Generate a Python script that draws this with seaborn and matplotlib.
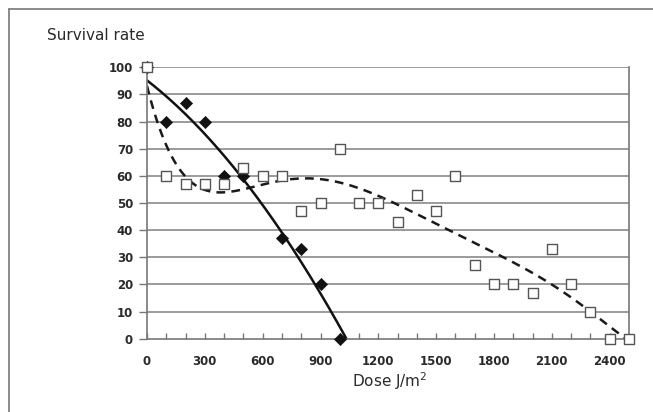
import numpy as np
import pandas as pd
import matplotlib
matplotlib.use("Agg")
import matplotlib.pyplot as plt
import seaborn as sns
from matplotlib.ticker import MultipleLocator

# --- data ---
# filled diamonds (the point at dose 0 lies hidden under the square at 0/100)
dose_a = [0, 100, 200, 300, 400, 500, 700, 800, 900, 1000]
surv_a = [100, 80, 87, 80, 60, 60, 37, 33, 20, 0]

# open squares
dose_b = [0, 100, 200, 300, 400, 500, 600, 700, 800, 900, 1000, 1100, 1200,
          1300, 1400, 1500, 1600, 1700, 1800, 1900, 2000, 2100, 2200, 2300,
          2400, 2500]
surv_b = [100, 60, 57, 57, 57, 63, 60, 60, 47, 50, 70, 50, 50,
          43, 53, 47, 60, 27, 20, 20, 17, 33, 20, 10,
          0, 0]

y_ticks = [0, 10, 20, 30, 40, 50, 60, 70, 80, 90, 100]
x_ticks = [0, 300, 600, 900, 1200, 1500, 1800, 2100, 2400]

sns.set_theme(style="white")
plt.rcParams['font.family'] = ['DejaVu Sans']

fig = plt.figure(figsize=(6.53, 4.12), dpi=100)
ax = fig.add_axes([0.2251, 0.1779, 0.9632 - 0.2251, 0.8367 - 0.1779])

# polynomial trend lines (as the spreadsheet trendlines of the original)
ca = np.polyfit(dose_a, surv_a, 2)
roots = [r.real for r in np.roots(ca) if abs(r.imag) < 1e-9 and r.real > 0]
xa_end = min(roots) if roots else 1000
xa = np.linspace(0, xa_end, 200)
df_a_fit = pd.DataFrame({"x": xa, "y": np.polyval(ca, xa)})

cb = np.polyfit(dose_b, surv_b, 6)
xb = np.linspace(0, 2500, 400)
yb = np.polyval(cb, xb)
keep = yb >= 0
df_b_fit = pd.DataFrame({"x": xb[keep], "y": yb[keep]})

for v in y_ticks[1:]:
    ax.axhline(v, color="#8a8a8a", lw=1.2, zorder=0)

sns.lineplot(data=df_b_fit, x="x", y="y", ax=ax, color="#1a1a1a", lw=1.8,
             zorder=2)
ax.lines[-1].set_dashes([3.5, 2.5])
sns.lineplot(data=df_a_fit, x="x", y="y", ax=ax, color="#111111", lw=1.8, zorder=2)

sns.scatterplot(x=dose_a, y=surv_a, ax=ax, marker="D", s=38,
                color="#111111", edgecolor="#111111", zorder=3, clip_on=False)
sns.scatterplot(x=dose_b, y=surv_b, ax=ax, marker="s", s=55,
                facecolor="white", edgecolor="#555555", linewidth=1.0, zorder=4,
                clip_on=False)

ax.set_xlim(0, 2500)
ax.set_ylim(0, 100)
ax.set_xticks(x_ticks)
ax.xaxis.set_minor_locator(MultipleLocator(100))
ax.set_yticks(y_ticks)
ax.tick_params(axis="x", which="both", direction="in", length=4, width=1,
               color="#777777", bottom=True, pad=12)
ax.tick_params(axis="y", which="major", direction="out", length=6, width=1,
               color="#777777", left=True, pad=4)
for lab in ax.get_xticklabels() + ax.get_yticklabels():
    lab.set_fontsize(8.5)
    lab.set_fontweight("bold")
    lab.set_color("#2a2a2a")

for s in ["left", "bottom", "right"]:
    ax.spines[s].set_visible(True)
    ax.spines[s].set_color("#777777")
    ax.spines[s].set_linewidth(1.2)
ax.spines["top"].set_visible(False)

ax.set_xlabel("")
ax.set_ylabel("")
fig.text(390 / 653, 1 - 381 / 412, "Dose J/m$^2$", ha="center", va="center",
         fontsize=11, color="#2a2a2a")
fig.text(47 / 653, 1 - 36 / 412, "Survival rate", ha="left", va="center",
         fontsize=11, color="#2a2a2a")

# outer frame
fig.add_artist(plt.Line2D([9 / 653, 9 / 653], [0, 1 - 9 / 412],
                          transform=fig.transFigure, color="#777777", lw=1.2))
fig.add_artist(plt.Line2D([9 / 653, 1], [1 - 9 / 412, 1 - 9 / 412],
                          transform=fig.transFigure, color="#777777", lw=1.2))

fig.savefig("out.png", dpi=100)
